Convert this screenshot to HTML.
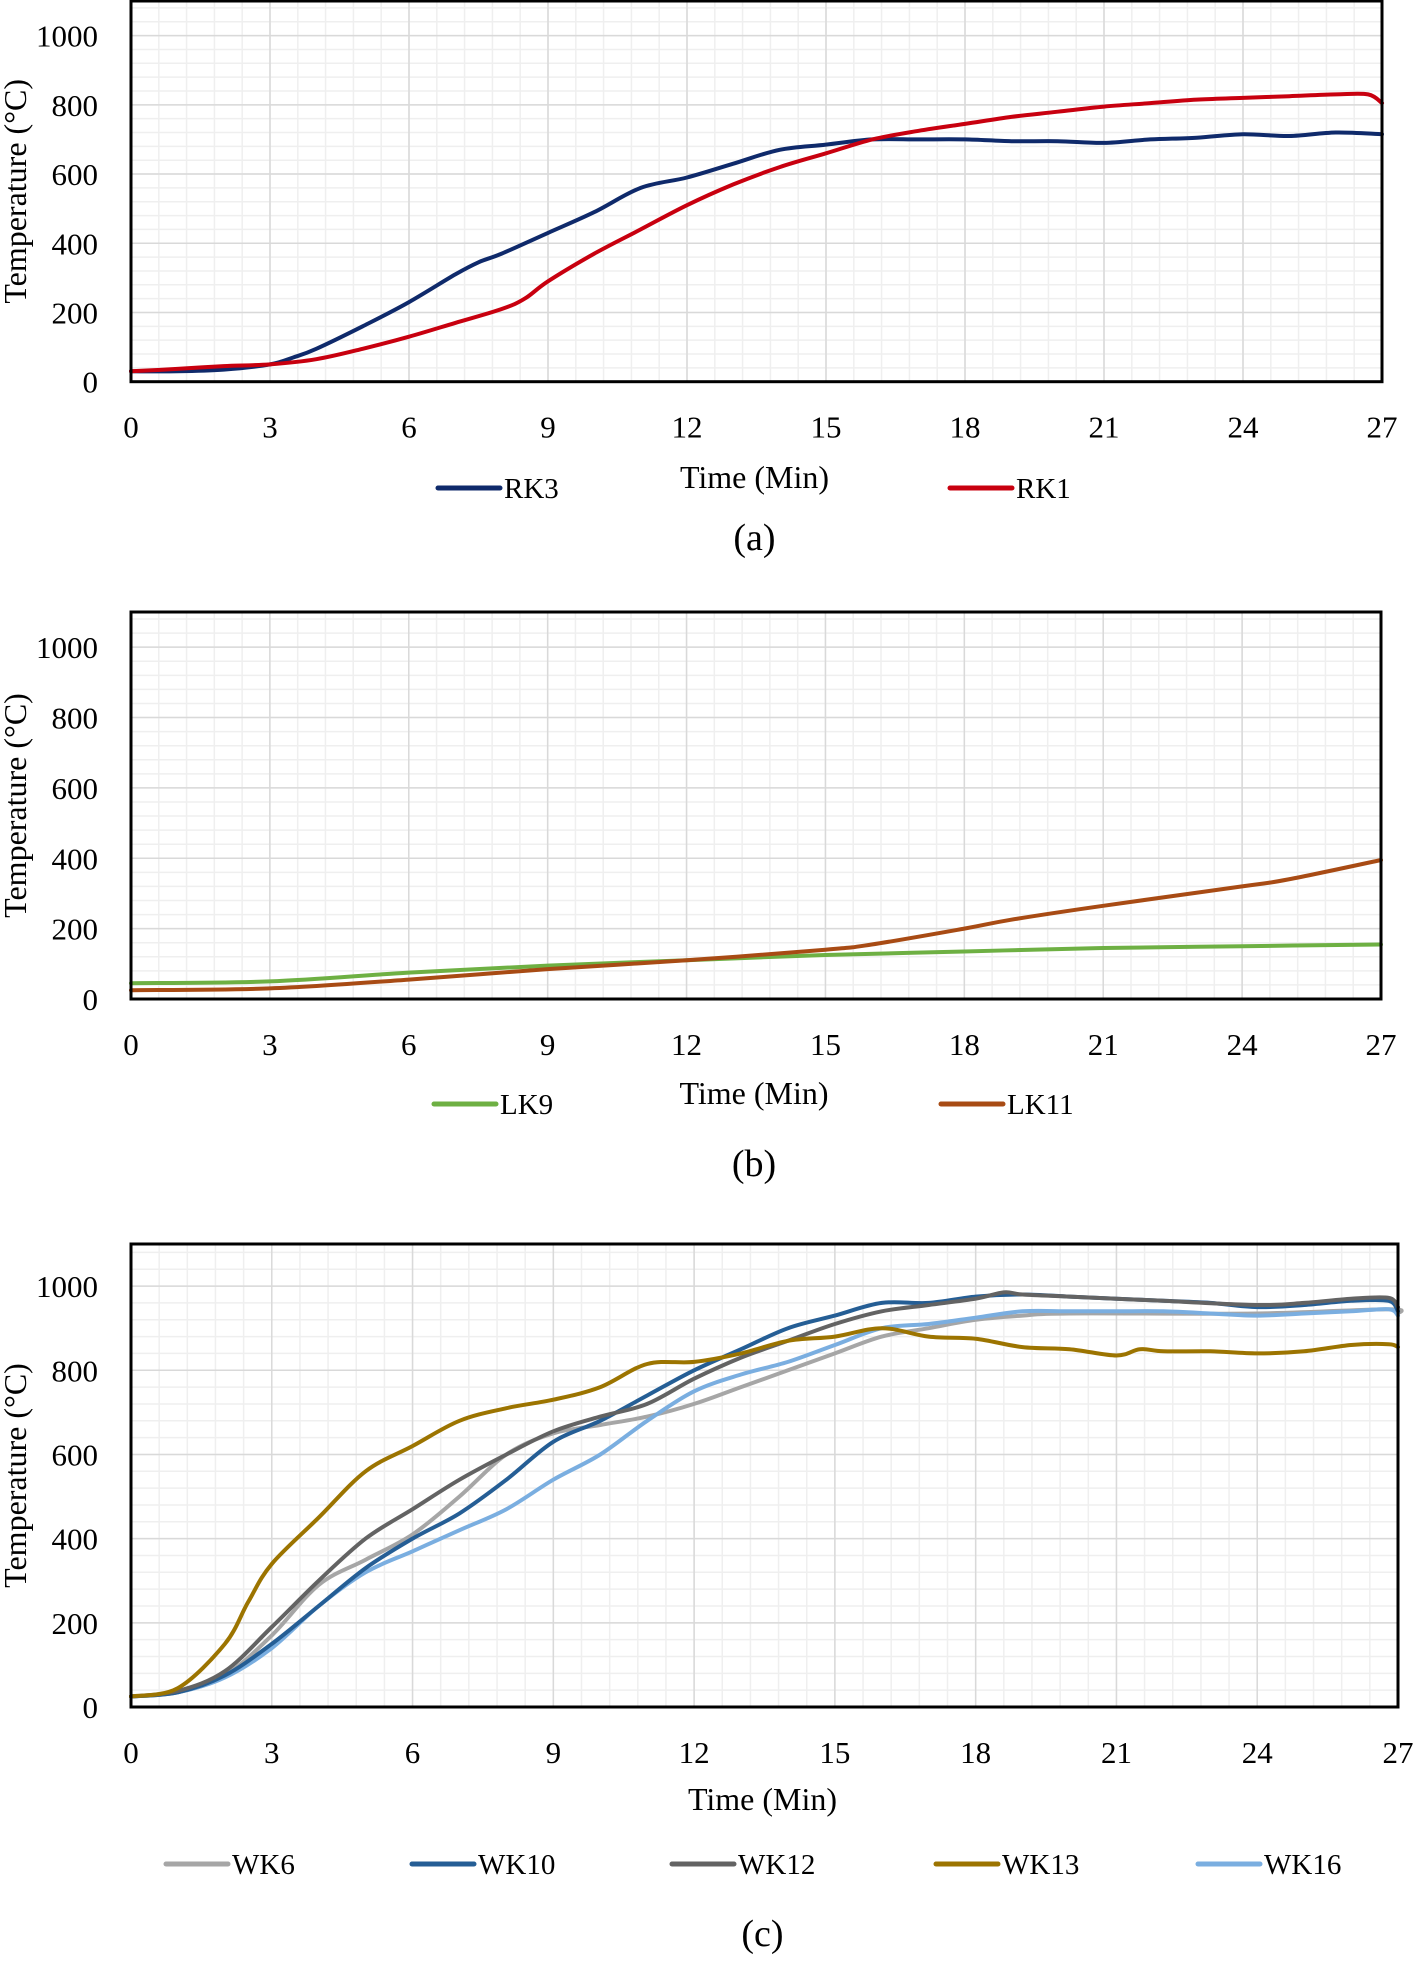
<!DOCTYPE html>
<html><head><meta charset="utf-8">
<style>
html,body{margin:0;padding:0;background:#fff;}
svg{display:block;font-family:"Liberation Serif",serif;}
</style></head>
<body>
<svg id="fig" width="1413" height="1964" viewBox="0 0 1413 1964" xmlns="http://www.w3.org/2000/svg"></svg>
<script>
// ---------- data ----------
const yTicks = [0,200,400,600,800,1000];
const xTicks = [0,3,6,9,12,15,18,21,24,27];

const rk3T = [0,1,2,3,3.5,4,5,6,7,7.5,8,9,10,11,12,13,14,15,16,17,18,19,20,21,22,23,24,25,26,27];
const rk3V = [30,30,35,50,70,95,160,230,310,345,370,430,490,560,590,630,670,685,700,700,700,695,695,690,700,705,715,710,720,715];
const rk1T = [0,1,2,3,4,5,6,7,8,8.5,9,10,11,12,13,14,15,16,17,18,19,20,21,22,23,24,25,26,26.7,27];
const rk1V = [30,37,45,50,65,95,130,170,210,240,290,370,440,510,570,620,660,700,725,745,765,780,795,805,815,820,825,830,830,805];

const lk9T = [0,3,6,9,12,15,18,21,24,27];
const lk9V = [45,50,75,95,110,125,135,145,150,155];
const lk11T = [0,3,6,9,12,15,16,18,19,21,24,25,27];
const lk11V = [25,30,55,85,110,140,155,200,225,265,320,340,395];

const wk6T = [0,1,2,3,4,5,6,7,8,9,10,11,12,13,14,15,16,17,18,19,20,24,26.8,27];
const wk6V = [25,35,75,170,290,350,410,500,600,650,670,690,720,760,800,840,880,900,920,930,935,935,945,935];
const wk10T = [0,1,2,3,4,5,6,7,8,9,10,11,12,13,14,15,16,17,18,19,20,21,22,23,24,25,26,26.8,27];
const wk10V = [25,35,75,150,240,330,400,460,540,630,680,740,800,850,900,930,960,960,975,980,975,970,965,960,950,955,965,965,940];
const wk12T = [0,1,2,3,4,5,6,7,8,9,10,11,12,13,14,15,16,17,18,18.6,19,20,21,22,24,25,26,26.8,27];
const wk12V = [25,38,85,190,300,400,470,540,600,655,690,720,780,830,870,910,940,955,970,985,980,975,970,965,955,960,970,972,950];
const wk13T = [0,1,2,2.5,3,4,5,6,7,8,9,10,11,12,13,14,15,16,17,18,19,20,21,21.5,22,23,24,25,26,26.8,27];
const wk13V = [25,45,150,250,340,450,560,620,680,710,730,760,815,820,840,870,880,900,880,875,855,850,835,850,845,845,840,845,860,862,855];
const wk16T = [0,1,2,3,4,5,6,7,8,9,10,11,12,13,14,15,16,17,18,19,20,21,22,23,24,25,26,26.8,27];
const wk16V = [25,35,70,140,240,320,370,420,470,540,600,680,750,790,820,860,900,910,925,940,940,940,940,935,930,935,940,945,930];

// ---------- drawing ----------
const NS = "http://www.w3.org/2000/svg";
const svg = document.getElementById('fig');
function mk(tag, attrs, parent){
  const e = document.createElementNS(NS, tag);
  for (const k in attrs) e.setAttribute(k, attrs[k]);
  (parent||svg).appendChild(e);
  return e;
}
function smoothPath(pts){
  let d = 'M'+pts[0][0].toFixed(1)+','+pts[0][1].toFixed(1);
  for (let i=0;i<pts.length-1;i++){
    const p0 = pts[Math.max(0,i-1)], p1 = pts[i], p2 = pts[i+1], p3 = pts[Math.min(pts.length-1,i+2)];
    const c1x = p1[0]+(p2[0]-p0[0])/6, c1y = p1[1]+(p2[1]-p0[1])/6;
    const c2x = p2[0]-(p3[0]-p1[0])/6, c2y = p2[1]-(p3[1]-p1[1])/6;
    d += ` C${c1x.toFixed(1)},${c1y.toFixed(1)} ${c2x.toFixed(1)},${c2y.toFixed(1)} ${p2[0].toFixed(1)},${p2[1].toFixed(1)}`;
  }
  return d;
}

function chart(cfg){
  const g = mk('g', {});
  
  
  const L = cfg.left, R = cfg.right, T = cfg.top, B = cfg.bottom;
  const xs = v => L + (v/27)*(R-L);
  const ys = v => B - (v/1100)*(B-T);
  for (let i=0;i<=45;i++){
    const x = xs(i*0.6);
    const ln = mk('line',{x1:x,x2:x,y1:T,y2:B,stroke:'#efefef','stroke-width':1.5},g);
    
    
  }
  for (let i=0;i<=27;i++){
    const y = ys(i*40);
    const ln = mk('line',{x1:L,x2:R,y1:y,y2:y,stroke:'#efefef','stroke-width':1.5},g);
    
    
  }
  xTicks.forEach(t=>{
    const ln = mk('line',{x1:xs(t),x2:xs(t),y1:T,y2:B,stroke:'#d9d9d9','stroke-width':1.5},g);
    
    
    const tx = mk('text',{x:xs(t),y:B+56,'font-size':31,'text-anchor':'middle',fill:'#000'},g);
    tx.textContent = t;
    
    
  });
  yTicks.forEach(t=>{
    const ln = mk('line',{x1:L,x2:R,y1:ys(t),y2:ys(t),stroke:'#d9d9d9','stroke-width':1.5},g);
    
    
    const tx = mk('text',{x:L-33,y:ys(t)+11,'font-size':31,'text-anchor':'end',fill:'#000'},g);
    tx.textContent = t;
    
    
  });
  cfg.series.forEach(s=>{
    const pts = s.t.map((t,i)=>[xs(t), ys(s.v[i])]);
    const p = mk('path',{d:smoothPath(pts),fill:'none',stroke:s.color,'stroke-width':4,'stroke-linejoin':'round','stroke-linecap':'round'},g);
    
    
  });
  const fr = mk('rect',{x:L,y:T,width:R-L,height:B-T,fill:'none',stroke:'#000','stroke-width':3},g);
  
  
  const cy = (T+B)/2;
  const yt = mk('text',{x:0,y:0,'font-size':32,'text-anchor':'middle',transform:`translate(26,${cy}) rotate(-90)`},g);
  yt.textContent = 'Temperature (°C)';
  
  
  const xt = mk('text',{x:(L+R)/2-2,y:cfg.xTitleY,'font-size':32,'text-anchor':'middle'},g);
  xt.textContent = 'Time (Min)';
  
  
  cfg.series.forEach(s=>{
    const lg = mk('g',{},g);
    
    
    mk('line',{x1:s.lx,x2:s.lx+62,y1:cfg.legendY,y2:cfg.legendY,stroke:s.color,'stroke-width':5,'stroke-linecap':'round'},lg);
    const tx = mk('text',{x:s.lx+66,y:cfg.legendY+10,'font-size':29},lg);
    tx.textContent = s.label;
  });
  const cp = mk('text',{x:(L+R)/2-2,y:cfg.capY,'font-size':38,'text-anchor':'middle'},g);
  cp.textContent = cfg.caption;
  
  
}

chart({name:'chart-a', left:131, right:1382, top:1, bottom:381.7, xTitleY:488, legendY:488, capY:550, caption:'(a)',
  series:[{t:rk3T,v:rk3V,color:'#0f2a6b',label:'RK3',lx:438},
          {t:rk1T,v:rk1V,color:'#c8000f',label:'RK1',lx:950}]});
chart({name:'chart-b', left:131, right:1381, top:612, bottom:999, xTitleY:1104, legendY:1104, capY:1176, caption:'(b)',
  series:[{t:lk9T,v:lk9V,color:'#6eb043',label:'LK9',lx:434},
          {t:lk11T,v:lk11V,color:'#a84b14',label:'LK11',lx:941}]});
chart({name:'chart-c', left:131, right:1398, top:1244, bottom:1707, xTitleY:1810, legendY:1864, capY:1946, caption:'(c)',
  series:[{t:wk6T,v:wk6V,color:'#a6a6a6',label:'WK6',lx:166},
          {t:wk16T,v:wk16V,color:'#7aaee0',label:'WK16',lx:1198},
          {t:wk10T,v:wk10V,color:'#255e95',label:'WK10',lx:412},
          {t:wk12T,v:wk12V,color:'#636363',label:'WK12',lx:672},
          {t:wk13T,v:wk13V,color:'#9c7400',label:'WK13',lx:936}]});
</script>
</body></html>
